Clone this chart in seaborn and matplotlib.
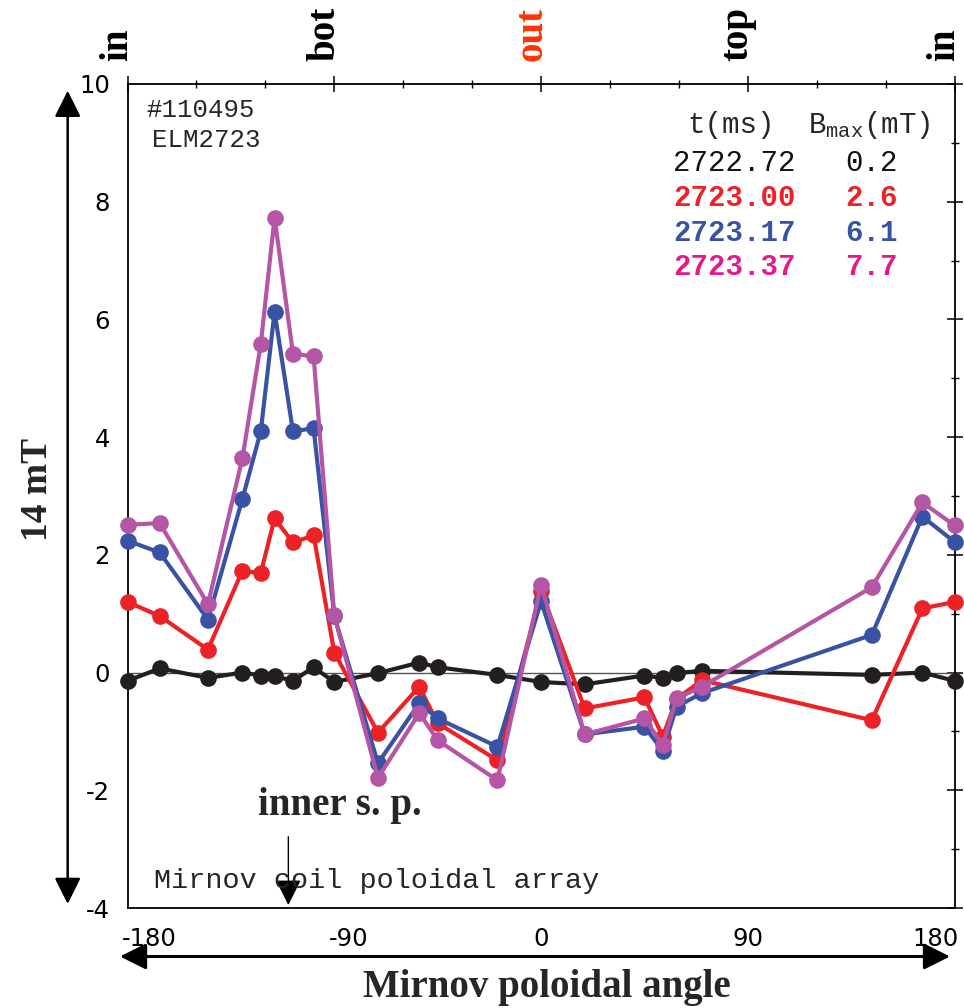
import numpy as np
import pandas as pd
import matplotlib
matplotlib.use("Agg")
import matplotlib.pyplot as plt
import matplotlib.transforms as mtransforms
from matplotlib.ticker import MultipleLocator
import seaborn as sns

# ---------------- data ----------------
angles = [-180, -166, -145, -130, -122, -116, -108, -99, -90, -71, -53, -45, -19,
          0, 19, 45, 53, 59, 70, 144, 166, 180]
b_2722_72 = [-0.14, 0.07, -0.09, 0.00, -0.05, -0.06, -0.14, 0.09, -0.16, -0.01, 0.17, 0.09, -0.04,
             -0.16, -0.20, -0.05, -0.09, -0.01, 0.03, -0.04, 0.00, -0.14]
b_2723_00 = [1.20, 0.96, 0.39, 1.73, 1.69, 2.62, 2.21, 2.33, 0.34, -1.02, -0.24, -0.86, -1.49,
             1.39, -0.61, -0.42, -1.09, -0.45, -0.13, -0.81, 1.09, 1.20]
b_2723_17 = [2.24, 2.04, 0.90, 2.95, 4.10, 6.13, 4.10, 4.15, 0.96, -1.54, -0.52, -0.78, -1.26,
             1.21, -1.05, -0.92, -1.33, -0.58, -0.35, 0.64, 2.65, 2.22]
b_2723_37 = [2.51, 2.54, 1.16, 3.64, 5.58, 7.73, 5.42, 5.37, 0.97, -1.79, -0.69, -1.15, -1.83,
             1.49, -1.05, -0.78, -1.23, -0.44, -0.24, 1.45, 2.89, 2.50]

times = ["2722.72", "2723.00", "2723.17", "2723.37"]
bmax = ["0.2", "2.6", "6.1", "7.7"]
series = [b_2722_72, b_2723_00, b_2723_17, b_2723_37]

line_colors = ["#231f20", "#ec2227", "#3953a4", "#b555a5"]
text_colors = ["#111111", "#ec2227", "#3953a4", "#e5198b"]

top_pos = [-180, -90, 0, 90, 180]
top_labels = ["in", "bot", "out", "top", "in"]
top_colors = ["black", "black", "#ff3300", "black", "black"]

xticks = [-180, -90, 0, 90, 180]
yticks = [-4, -2, 0, 2, 4, 6, 8, 10]

df = pd.concat([pd.DataFrame({"angle": angles, "B": s, "t": t}) for s, t in zip(series, times)],
               ignore_index=True)

# ---------------- figure ----------------
sns.set_style("white")
plt.rcParams["axes.unicode_minus"] = False
plt.rcParams["font.family"] = ["DejaVu Sans"]

fig = plt.figure(figsize=(9.64, 10.08), dpi=100)
ax = fig.add_axes([0.1323, 0.0992, 0.8579, 0.8175])

ax.axhline(0, color="#555555", lw=1.0, zorder=1)

sns.lineplot(data=df, x="angle", y="B", hue="t", hue_order=times, palette=line_colors,
             estimator=None, sort=False, marker="o", markersize=12, markeredgewidth=0,
             linewidth=3.0, legend=False, ax=ax, zorder=3)
for ln in ax.lines:
    ln.set_clip_on(False)

ax.set_xlim(-180, 180)
ax.set_ylim(-4, 10)
ax.set_xticks(xticks)
ax.set_yticks(yticks)
ax.xaxis.set_minor_locator(MultipleLocator(30))
ax.yaxis.set_minor_locator(MultipleLocator(1))
ax.set_xlabel("")
ax.set_ylabel("")
for sp in ax.spines.values():
    sp.set_color("black")
    sp.set_linewidth(1.3)
ax.tick_params(which="both", direction="inout", top=True, right=True, colors="black")
ax.tick_params(which="major", length=11.5, width=1.1, labelsize=17.5, pad=6.8)
ax.tick_params(which="minor", length=5.8, width=1.0)
ax.tick_params(axis="x", which="major", pad=8)

# shift end tick labels inward as in the original
shifts = {"-180": 22, "-90": 14, "180": -19}
fig.canvas.draw()
for lab in ax.get_xticklabels():
    dx = shifts.get(lab.get_text(), 0)
    if dx:
        lab.set_transform(lab.get_transform() + mtransforms.ScaledTranslation(dx / 100, 0, fig.dpi_scale_trans))

mono = ["Liberation Mono", "DejaVu Sans Mono"]
serif = ["Liberation Serif", "DejaVu Serif"]

# shot info
ax.text(-171.6, 9.55, "#110495", family=mono, fontsize=18.5, ha="left", va="center")
ax.text(-169.4, 9.04, "ELM2723", family=mono, fontsize=18.5, ha="left", va="center")

# legend table
ax.text(63.7, 9.31, "t(ms)", family=mono, fontsize=21, ha="left", va="center")
ax.text(116.0, 9.31, r"B$_{\mathregular{max}}$(mT)", family=mono, fontsize=21, ha="left", va="center")
row_y = [8.66, 8.07, 7.47, 6.89]
for i, (t, b, c, y) in enumerate(zip(times, bmax, text_colors, row_y)):
    w = "normal" if i == 0 else "bold"
    ax.text(57.4, y, t, family=mono, fontsize=21, color=c, fontweight=w, ha="left", va="center")
    ax.text(132.4, y, b, family=mono, fontsize=21, color=c, fontweight=w, ha="left", va="center")

# top position labels
trans_top = mtransforms.blended_transform_factory(ax.transData, ax.transAxes)
for x, s, c in zip(top_pos, top_labels, top_colors):
    ax.text(x, 1.028, s, transform=trans_top, rotation=90, rotation_mode="anchor",
            ha="left", va="baseline", family=serif, fontweight="bold", fontsize=28,
            color=c, clip_on=False)

# inner strike point annotation
ax.text(-123.3, -2.42, "inner s. p.", family=serif, fontweight="bold", fontsize=28,
        ha="left", va="baseline")
ax.annotate("", xy=(-110, -3.95), xytext=(-110, -2.79),
            arrowprops=dict(arrowstyle="-|>,head_length=0.8,head_width=0.4", mutation_scale=20,
                            color="black", lw=1.0, shrinkA=0, shrinkB=0))
ax.text(-168.5, -3.66, "Mirnov coil poloidal array", family=mono, fontsize=20.5,
        ha="left", va="baseline")

# axis arrows
ax.annotate("", xy=(0.0702, 0.910), xytext=(0.0702, 0.1032), xycoords="figure fraction",
            textcoords="figure fraction",
            arrowprops=dict(arrowstyle="<|-|>,head_length=0.8,head_width=0.4", mutation_scale=20,
                            color="black", lw=1.8, shrinkA=0, shrinkB=0))
ax.annotate("", xy=(0.9855, 0.0511), xytext=(0.1245, 0.0511), xycoords="figure fraction",
            textcoords="figure fraction",
            arrowprops=dict(arrowstyle="<|-|>,head_length=0.8,head_width=0.4", mutation_scale=20,
                            color="black", lw=2.2, shrinkA=0, shrinkB=0))

fig.text(0.039, 0.514, "14 mT", rotation=90, ha="center", va="center", family=serif,
         fontweight="bold", fontsize=27)
fig.text(0.567, 0.0112, "Mirnov poloidal angle", ha="center", va="baseline", family=serif,
         fontweight="bold", fontsize=28)

fig.savefig("out.png", dpi=100)
